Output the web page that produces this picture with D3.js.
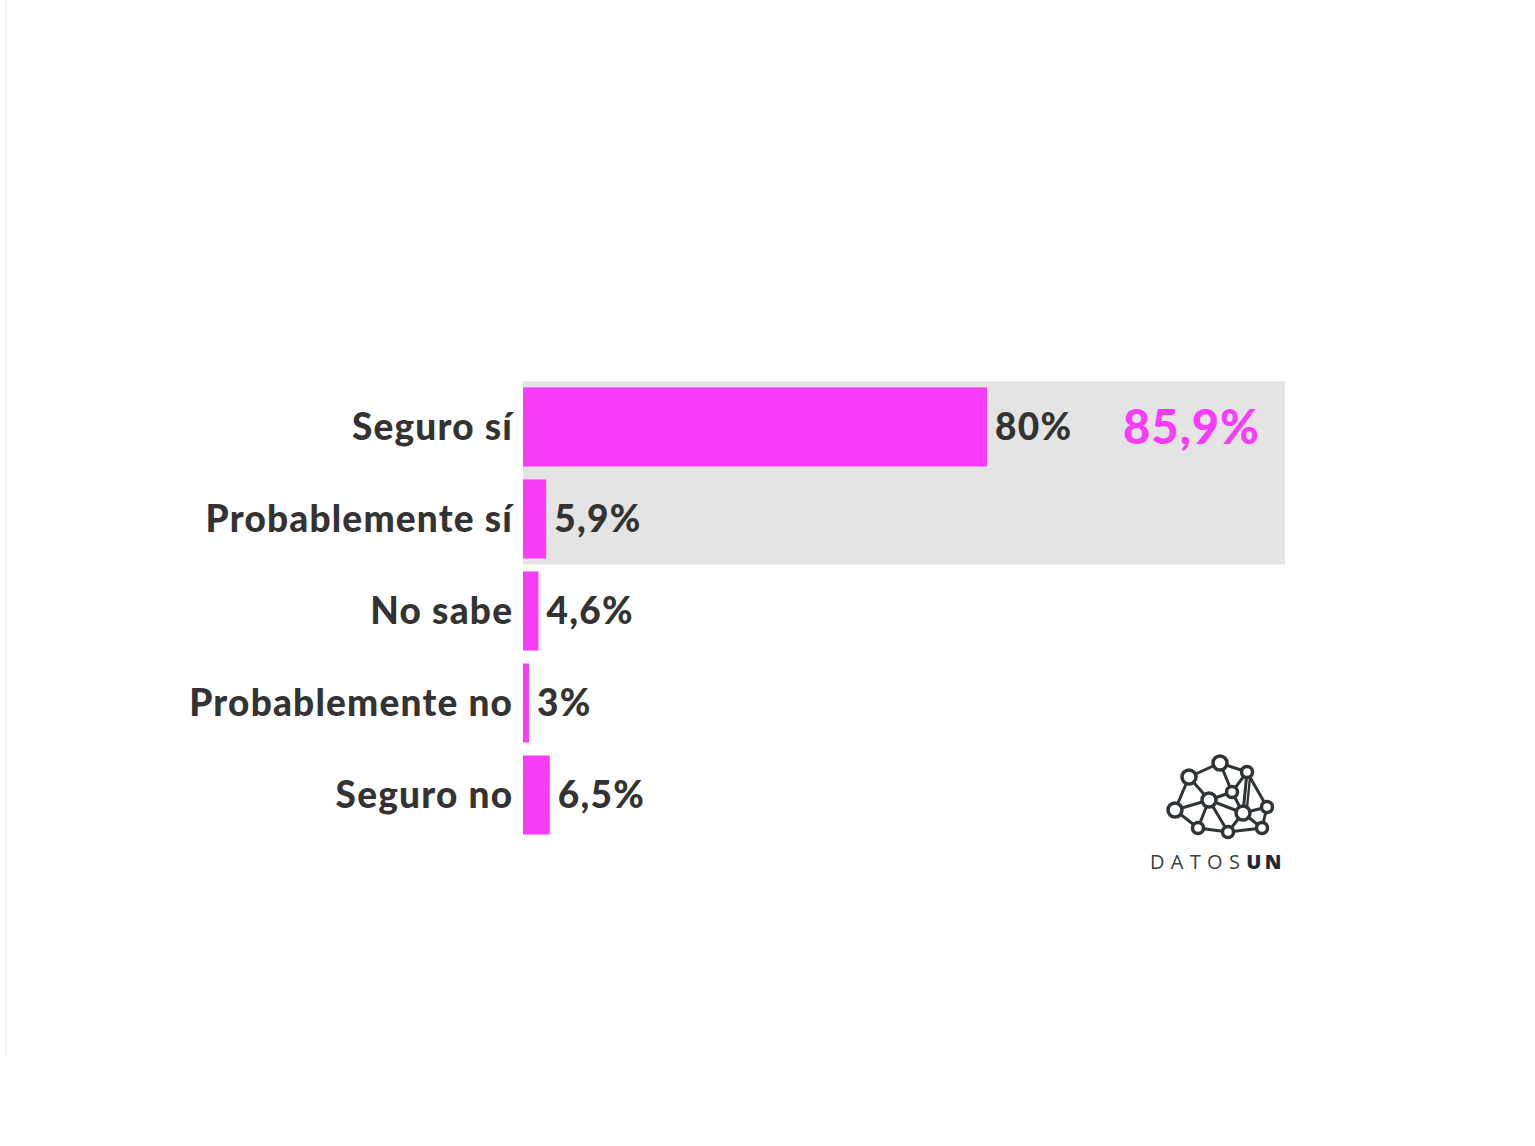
<!DOCTYPE html>
<html>
<head>
<meta charset="utf-8">
<script src="https://cdn.jsdelivr.net/npm/d3@7"></script>
<style>
  html, body { margin: 0; padding: 0; background: #ffffff; }
  svg { display: block; }
</style>
</head>
<body>
<svg id="chart" width="1535" height="1146"></svg>
<script>
// ---- Data ----
const categories = ["Seguro sí", "Probablemente sí", "No sabe", "Probablemente no", "Seguro no"];
const values = [80, 5.9, 4.6, 3, 6.5];
const valueLabels = ["80%", "5,9%", "4,6%", "3%", "6,5%"];
const highlightCategories = ["Seguro sí", "Probablemente sí"];
const highlightLabel = "85,9%";

// ---- Layout ----
const svg = d3.select("#chart");
const magenta = "#f93cf8";
const dark = "#333333";
const font = "Lato, 'Source Sans Pro', sans-serif";

// faint page frame line on left edge
svg.append("line").attr("x1", 6).attr("x2", 6).attr("y1", 0).attr("y2", 1055)
  .attr("stroke", "#f2f2f2").attr("stroke-width", 1.5);

const x = d3.scaleLinear().domain([2, 80]).range([523, 987]);
const y = d3.scaleBand().domain(categories).range([381, 841]).paddingInner(0.141).paddingOuter(0.07);

// highlight background
const hy0 = y(highlightCategories[0]) - 6;
const hy1 = y(highlightCategories[highlightCategories.length - 1]) + y.bandwidth() + 6;
svg.append("rect")
  .attr("x", x(2)).attr("y", hy0)
  .attr("width", 1285 - x(2)).attr("height", hy1 - hy0)
  .attr("fill", "#e4e4e4");

// bars
svg.append("g").selectAll("rect").data(categories).join("rect")
  .attr("x", x(2))
  .attr("y", d => y(d))
  .attr("width", (d, i) => x(values[i]) - x(2))
  .attr("height", y.bandwidth())
  .attr("fill", magenta);

// category labels (axis)
const axis = d3.axisLeft(y).tickSize(0).tickPadding(9.8);
const ag = svg.append("g").attr("transform", `translate(${x(2)},0)`).call(axis);
ag.select(".domain").remove();
ag.selectAll("text")
  .attr("font-family", font).attr("font-weight", 900)
  .attr("font-size", 37).attr("letter-spacing", 1.2)
  .attr("fill", dark).attr("dy", "0.36em");

// value labels
svg.append("g").selectAll("text").data(categories).join("text")
  .attr("x", (d, i) => x(values[i]) + 8)
  .attr("y", d => y(d) + y.bandwidth() / 2)
  .attr("dy", "0.36em")
  .attr("font-family", font).attr("font-weight", 900)
  .attr("font-size", 37).attr("letter-spacing", 1.3).attr("fill", dark)
  .text((d, i) => valueLabels[i]);

// highlight total
svg.append("text")
  .attr("x", 1191.5)
  .attr("y", y(highlightCategories[0]) + y.bandwidth() / 2)
  .attr("dy", "0.36em")
  .attr("text-anchor", "middle")
  .attr("font-family", font).attr("font-weight", 900)
  .attr("font-size", 47).attr("letter-spacing", 1).attr("fill", magenta)
  .text(highlightLabel);

// ---- DATOSUN logo ----
const logo = svg.append("g");
const nodes = [
  [1220, 763, 7], [1247, 772, 5.5], [1189, 777, 7], [1232, 792, 5.5],
  [1209, 800, 7], [1175, 810, 7], [1267, 807, 5.5], [1243, 813, 7],
  [1198, 828, 5.5], [1228, 832, 5.5], [1262, 828, 5.5]
];
const edges = [
  [0,2],[0,1],[0,3],[2,4],[2,5],[1,3],[1,7],[1,6],[3,4],[3,7],
  [4,5],[4,8],[4,9],[4,7],[5,8],[8,9],[9,10],[7,10],[6,10],[7,9],[6,7]
];
logo.selectAll("line").data(edges).join("line")
  .attr("x1", d => nodes[d[0]][0]).attr("y1", d => nodes[d[0]][1])
  .attr("x2", d => nodes[d[1]][0]).attr("y2", d => nodes[d[1]][1])
  .attr("stroke", "#2f3436").attr("stroke-width", 3);
logo.append("line").attr("x1", 1250.5).attr("y1", 772).attr("x2", 1246.5).attr("y2", 813)
  .attr("stroke", "#2f3436").attr("stroke-width", 2.4);
logo.selectAll("circle").data(nodes).join("circle")
  .attr("cx", d => d[0]).attr("cy", d => d[1]).attr("r", d => d[2])
  .attr("fill", "#ffffff").attr("stroke", "#2f3436").attr("stroke-width", 3.5);

const lt = logo.append("text")
  .attr("x", 1150).attr("y", 869)
  .attr("font-family", "'Open Sans', sans-serif").attr("font-size", 20)
  .attr("letter-spacing", 6.3).attr("fill", "#3a3f42");
lt.append("tspan").attr("font-weight", 400).text("DATOS");
lt.append("tspan").attr("font-weight", 800).attr("fill", "#1f2a30").attr("letter-spacing", 3.5).text("UN");
</script>
</body>
</html>
